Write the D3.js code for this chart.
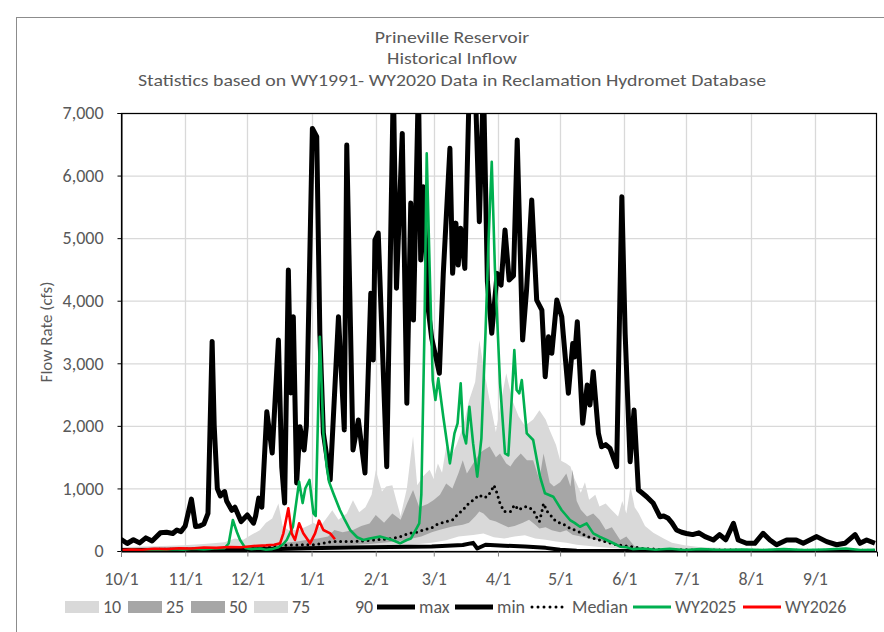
<!DOCTYPE html>
<html><head><meta charset="utf-8">
<script src="https://cdn.jsdelivr.net/npm/d3@7"></script>
<style>body{margin:0;background:#fff}svg{display:block}</style>
</head><body><svg id="c" width="884" height="632"></svg>
<script>
// ---------- DATA (day of water year, cfs) ----------
const titleLines = ["Prineville Reservoir","Historical Inflow","Statistics based on WY1991- WY2020 Data in Reclamation Hydromet Database"];
const yLabel = "Flow Rate (cfs)";
const monthLabels = ["10/1","11/1","12/1","1/1","2/1","3/1","4/1","5/1","6/1","7/1","8/1","9/1"];
const yTicks = [0,1000,2000,3000,4000,5000,6000,7000];

const maxSeries = [[0,187],[3,120],[6,180],[9,130],[12,210],[15,160],[19,290],[22,300],[25,280],[27,335],[29,310],[31,400],[34,830],[36,390],[38,400],[40,430],[42,600],[44,3350],[45,2000],[46.5,1000],[48,880],[49,925],[50,950],[51,800],[53.5,650],[55,700],[58,470],[61,575],[64,445],[65,560],[66.5,845],[68,700],[70.4,2226],[73,1566],[76,3372],[77.6,1347],[79,766],[80.8,4490],[82,2525],[83.2,3744],[84.8,1086],[86.4,1986],[88.4,1614],[89.5,2000],[92.4,6754],[94.5,6621],[96,3483],[97.7,1886],[101,1135],[105,3744],[107.8,1934],[109,6488],[112,1614],[114.6,2093],[117.8,1246],[120.6,4118],[121.8,3052],[122.6,4970],[124.2,5082],[128.3,1347],[131.5,7500],[133,4200],[135.8,6674],[138,2360],[139.9,5560],[141.2,3690],[143.6,7500],[144.7,4650],[146,5820],[148.4,3850],[150,3400],[152,3100],[153.7,2840],[155.6,4437],[158.8,6435],[160.1,4437],[161.7,5240],[162.8,4570],[164,5157],[166,4517],[168.2,7500],[171,7500],[173,5262],[175,7500],[176.9,4304],[179,3480],[181.6,4437],[183.5,4250],[185.4,5130],[187.4,4330],[189.5,4400],[191.3,6568],[193.9,3372],[195.8,4170],[198.3,5610],[200.7,4010],[203.2,3850],[204.8,2786],[206.4,3425],[208,3160],[210.4,4010],[212.8,3744],[216,2520],[218.1,3318],[219,3100],[220.3,3664],[222.9,2040],[225.1,2653],[226.4,2333],[228,2866],[230.5,1880],[232,1667],[234,1700],[236.1,1640],[239.3,1347],[241.8,5662],[243.4,3478],[245.8,1427],[247.7,2253],[249.8,975],[251.5,930],[253.8,868],[257,762],[260.2,548],[262,560],[264.2,522],[266,450],[268.2,336],[270.7,300],[273,280],[276,262],[279,290],[282,230],[286,176],[289,262],[292,180],[295.7,442],[298,176],[302,123],[306,123],[310,283],[313.3,176],[316.5,100],[321.4,176],[326,176],[329.4,123],[335.9,230],[340.7,150],[345.5,100],[349.5,123],[354.4,262],[356.8,123],[360,176],[364,123]];

const minSeries = [[0,15],[30,20],[60,25],[75,30],[90,45],[110,55],[130,65],[150,70],[165,95],[170,130],[172,40],[176,100],[185,85],[195,70],[205,50],[212,20],[220,5],[364,0]];

const p90 = [[0,60],[10,70],[20,80],[30,90],[40,110],[50,140],[55,200],[59,180],[63,260],[67,330],[70,450],[73,520],[76,760],[78,400],[81,330],[86,340],[90,400],[93,450],[96,380],[100,560],[102,650],[105,500],[109,600],[112,810],[115,620],[118,700],[121,900],[123,1290],[126,950],[128,1030],[131,1050],[133,800],[135,560],[138,1000],[141,1830],[143,1050],[146,1200],[149,1300],[151,1150],[153,1400],[155,1250],[157,1670],[160,1550],[162,1700],[164,1880],[166,2100],[168,2400],[171,2700],[173,3370],[175,2950],[178,2400],[181,1900],[183,2300],[186,2840],[189,2400],[192,2150],[195,2000],[199,2100],[202,2250],[205,2100],[207,1930],[210,1700],[212,1450],[215,1400],[217,1350],[219,1150],[222,930],[224,1100],[226,820],[229,900],[231,710],[234,760],[237,650],[240,550],[242,800],[244,600],[246,1030],[248,700],[250,600],[253,400],[257,290],[262,200],[266,130],[272,90],[280,60],[300,40],[330,30],[364,30]];

const p75 = [[0,30],[30,40],[60,60],[75,120],[85,150],[90,180],[95,200],[100,230],[103,336],[107,300],[112,336],[116,400],[120,440],[123,575],[127,450],[131,600],[135,500],[138,750],[141,975],[144,700],[148,750],[151,815],[154,900],[157,1080],[160,1000],[163,1250],[165,1450],[167,1240],[170,1400],[173,1560],[175,1610],[178,1670],[181,1500],[183,1560],[186,1400],[188,1350],[190,1450],[193,1560],[196,1450],[199,1450],[202,1140],[204,1560],[207,1090],[209,1030],[212,1100],[215,1240],[217,1030],[218,1300],[220,800],[222,660],[225,550],[228,600],[231,500],[234,340],[237,380],[241,176],[244,230],[248,70],[255,40],[270,20],[364,10]];

const p50 = [[0,20],[15,25],[30,30],[45,40],[60,50],[70,60],[80,95],[93,100],[102,150],[112,150],[122,175],[131,200],[135,230],[139,283],[143,300],[146,336],[150,370],[152,415],[154,440],[157,470],[160,495],[163,600],[165,650],[167,735],[170,815],[172,870],[173,895],[175,850],[177,870],[179,975],[180,1050],[181,980],[183,760],[185,630],[188,630],[190,735],[192,655],[194,700],[196,710],[199,655],[201,520],[202,470],[203,600],[204,760],[206,620],[208,550],[210,470],[213,440],[217,360],[221,310],[225,230],[231,176],[236,130],[239,100],[246,70],[252,40],[260,25],[280,15],[364,10]];

const p25 = [[0,15],[30,20],[60,30],[80,50],[100,80],[120,110],[135,160],[145,230],[150,300],[154,340],[160,390],[165,420],[168,450],[171,550],[173,630],[175,600],[178,500],[181,470],[183,440],[187,380],[190,400],[194,450],[197,500],[200,420],[202,360],[205,380],[208,330],[212,300],[215,330],[218,260],[222,230],[226,200],[231,170],[236,120],[241,80],[248,50],[260,30],[364,10]];

const p10 = [[0,10],[60,20],[100,40],[130,70],[140,100],[150,130],[157,170],[163,230],[170,256],[175,280],[180,220],[185,200],[190,230],[195,250],[200,200],[205,180],[210,150],[215,130],[220,100],[226,80],[232,60],[240,40],[250,25],[364,5]];

const wy2025 = [[0,5],[5,20],[10,10],[15,25],[20,15],[25,30],[30,20],[35,35],[40,25],[45,40],[50,45],[52,120],[54,495],[56,300],[57.5,176],[60,50],[63,30],[67,40],[70,20],[73,30],[76,60],[78,100],[80,176],[83,388],[86,1108],[87.7,766],[89,1002],[91,1135],[92.9,602],[94,560],[96,3425],[97.7,1880],[99.3,1347],[100.5,1100],[102.5,922],[105.7,655],[108,500],[110.6,336],[114,220],[117,176],[120,200],[125,230],[128,202],[131,176],[134.7,123],[138,176],[140,200],[142.7,362],[144,440],[145,900],[146.5,3500],[147.6,6354],[149,4544],[150.5,2733],[151.8,2413],[153.2,2760],[155.6,2146],[158.8,1400],[161,1880],[162.5,2040],[164,2680],[165.3,1880],[166.6,1720],[168.2,2306],[170,1720],[172,1188],[174,1800],[176,3500],[177.5,5000],[179,6221],[180.5,4544],[183,2680],[185.4,1561],[187,1530],[188.6,2413],[189.9,3212],[191,2573],[192.3,2520],[193.5,2733],[195.9,1880],[199,1774],[202.3,1188],[204.7,922],[208.7,868],[212.7,655],[216.8,495],[219,450],[221.6,388],[224.8,442],[228,282],[231,230],[234.5,176],[238,120],[241,69],[244,60],[247,30],[252,40],[258,20],[265,35],[272,15],[280,30],[290,15],[300,25],[310,15],[320,30],[330,15],[340,25],[350,40],[357,15],[364,20]];

const wy2026 = [[0,16],[5,25],[10,20],[16,35],[22,30],[28,45],[34,40],[40,55],[46,50],[52,65],[58,60],[64,80],[70,90],[74,100],[76.8,123],[78.4,282],[80.8,682],[82.4,282],[84,176],[86,442],[88,282],[91.3,123],[93.7,282],[95.6,485],[97.7,336],[101,282],[103.3,187]];

// ---------- LAYOUT ----------
const FONT = "Carlito, Calibri, Lato, 'Liberation Sans', sans-serif";
const TXT = "#595959";
const L = 121, R = 877, T = 113, B = 551;
const svg = d3.select("#c");
svg.append("rect").attr("x",16.5).attr("y",17.5).attr("width",900).attr("height",700)
  .attr("fill","#fff").attr("stroke","#8c8c8c");

const t0 = Date.UTC(2024,9,1), t1 = Date.UTC(2025,9,1);
const toDate = d => new Date(t0 + d*864e5);
const x = d3.scaleUtc().domain([new Date(t0), new Date(t1)]).range([L, R]);
const y = d3.scaleLinear().domain([0,7000]).range([B, T]);
const monthTicks = d3.utcMonth.range(new Date(t0), new Date(t1));

// gridlines
const g = svg.append("g");
g.selectAll("line.h").data(yTicks.slice(1)).join("line")
  .attr("x1",L).attr("x2",R).attr("y1",d=>y(d)+0.5).attr("y2",d=>y(d)+0.5)
  .attr("stroke","#d9d9d9").attr("stroke-width",1.3);
g.selectAll("line.v").data(monthTicks.slice(1)).join("line")
  .attr("x1",d=>Math.round(x(d))+0.5).attr("x2",d=>Math.round(x(d))+0.5).attr("y1",T).attr("y2",B)
  .attr("stroke","#d9d9d9").attr("stroke-width",1.3);

svg.append("clipPath").attr("id","pc").append("rect")
  .attr("x",L).attr("y",T).attr("width",R-L).attr("height",B-T);
const plot = svg.append("g").attr("clip-path","url(#pc)");

const area = d3.area().x(d=>x(toDate(d[0]))).y0(y(0)).y1(d=>y(d[1]));
const line = d3.line().x(d=>x(toDate(d[0]))).y(d=>y(d[1]));

const bands = [[p90,"#d9d9d9"],[p75,"#a6a6a6"],[p50,"#a6a6a6"],[p25,"#d9d9d9"],[p10,"#ffffff"]];
bands.forEach(([s,c]) => plot.append("path").datum(s).attr("d",area).attr("fill",c));

plot.append("path").datum(minSeries).attr("d",line).attr("fill","none").attr("stroke","#000").attr("stroke-width",4).attr("stroke-linejoin","round");
plot.append("path").datum(maxSeries).attr("d",line).attr("fill","none").attr("stroke","#000").attr("stroke-width",5).attr("stroke-linejoin","round");
plot.append("path").datum(p50).attr("d",line).attr("fill","none").attr("stroke","#000").attr("stroke-width",3)
  .attr("stroke-dasharray","0 5.5").attr("stroke-linecap","round");
plot.append("path").datum(wy2025).attr("d",line).attr("fill","none").attr("stroke","#00b050").attr("stroke-width",2.6).attr("stroke-linejoin","round");
plot.append("path").datum(wy2026).attr("d",line).attr("fill","none").attr("stroke","#ff0000").attr("stroke-width",2.6).attr("stroke-linejoin","round");

// plot border
svg.append("rect").attr("x",L+0.5).attr("y",T+0.5).attr("width",R-L-1).attr("height",B-T)
  .attr("fill","none").attr("stroke","#000").attr("stroke-width",1.2);

// axes
const yAxis = svg.append("g").attr("transform",`translate(${L+0.5},0)`)
  .call(d3.axisLeft(y).tickValues(yTicks).tickFormat(d3.format(",")).tickSize(4).tickPadding(14));
yAxis.select(".domain").attr("stroke","#000");
yAxis.selectAll(".tick line").attr("stroke","#000");
yAxis.selectAll("text").attr("font-family",FONT).attr("font-size",18).attr("fill",TXT);

const xAxis = svg.append("g").attr("transform",`translate(0,${B+0.5})`)
  .call(d3.axisBottom(x).tickValues(monthTicks).tickFormat((d,i)=>monthLabels[i]).tickSize(5));
xAxis.select(".domain").attr("stroke","#000");
xAxis.selectAll(".tick line").attr("stroke","#808080");
xAxis.selectAll("text").attr("font-family",FONT).attr("font-size",18).attr("fill",TXT)
  .attr("y",27).attr("dy","0.35em");

// y title
svg.append("text").attr("transform","translate(46,332) rotate(-90)").attr("text-anchor","middle")
  .attr("dy","0.35em").attr("font-family",FONT).attr("font-size",17).attr("fill",TXT).text(yLabel);

// titles (scaled so that the long line spans the same width as the reference)
const ty = [37,58,80];
const tnodes = titleLines.map((s,i)=> svg.append("text").attr("x",452).attr("y",ty[i]).attr("dy","0.35em")
  .attr("text-anchor","middle").attr("font-family",FONT).attr("font-size",17).attr("fill",TXT).text(s));
const k = 628 / tnodes[2].node().getComputedTextLength();
tnodes.forEach(t => t.attr("textLength", t.node().getComputedTextLength()*k).attr("lengthAdjust","spacingAndGlyphs"));

// legend
const LY = 607;
const leg = svg.append("g").attr("font-family",FONT).attr("font-size",18).attr("fill",TXT);
const sw = [["10","#d9d9d9",65],["25","#a6a6a6",128],["50","#a6a6a6",191],["75","#d9d9d9",254]];
sw.forEach(([lab,c,x0])=>{
  leg.append("rect").attr("x",x0).attr("y",LY-6).attr("width",34).attr("height",12).attr("fill",c);
  leg.append("text").attr("x",x0+38).attr("y",LY).attr("dy","0.35em").text(lab);
});
leg.append("text").attr("x",355).attr("y",LY).attr("dy","0.35em").text("90");
const ln = [["max",377,"#000",5,null],["min",455,"#000",5,null],["Median",530,"#000",3,"0 6"],["WY2025",633,"#00b050",3,null],["WY2026",743,"#ff0000",3,null]];
ln.forEach(([lab,x0,c,w,da])=>{
  const l = leg.append("line").attr("x1",x0).attr("x2",x0+38).attr("y1",LY).attr("y2",LY)
    .attr("stroke",c).attr("stroke-width",w);
  if(da) l.attr("stroke-dasharray",da).attr("stroke-linecap","round").attr("x1",x0+2).attr("x2",x0+36);
  leg.append("text").attr("x",x0+42).attr("y",LY).attr("dy","0.35em").text(lab);
});
</script></body></html>
